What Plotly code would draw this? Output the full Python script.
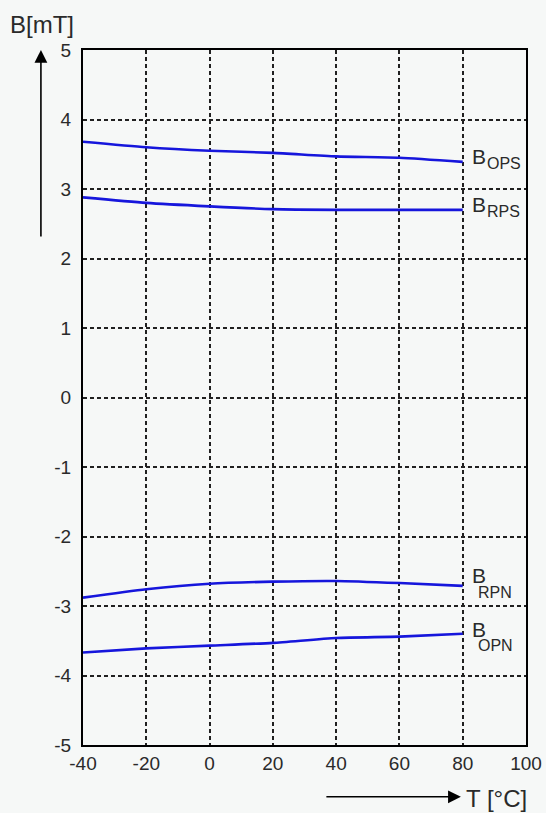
import plotly.graph_objects as go

# ---- data ----
temps = [-40, -20, 0, 20, 40, 60, 80]
b_ops = [3.68, 3.60, 3.55, 3.52, 3.47, 3.45, 3.39]
b_rps = [2.88, 2.80, 2.75, 2.71, 2.70, 2.70, 2.70]
b_rpn = [-2.88, -2.76, -2.68, -2.65, -2.64, -2.67, -2.71]
b_opn = [-3.67, -3.61, -3.57, -3.53, -3.46, -3.44, -3.40]
series_subs = ["OPS", "RPS", "RPN", "OPN"]
x_ticks = [-40, -20, 0, 20, 40, 60, 80, 100]
y_ticks = [-5, -4, -3, -2, -1, 0, 1, 2, 3, 4, 5]

# ---- styles ----
LINE = "#1616dc"
TXT = "#2a2a2a"
BG = "#f6f8f7"
FONT = "Liberation Sans, Arial, sans-serif"
# (B yshift, sub xshift, sub yshift) in pixels
label_offsets = [(5, 22, -2), (5, 22, -2), (10, 13, -7), (4, 13, -12)]

fig = go.Figure()
all_series = [b_ops, b_rps, b_rpn, b_opn]
for vals in all_series:
    fig.add_trace(go.Scatter(x=temps, y=vals, mode="lines",
                             line=dict(color=LINE, width=2.6, shape="spline", smoothing=0.6),
                             showlegend=False, hoverinfo="skip"))

for vals, sub, (bys, sxs, sys) in zip(all_series, series_subs, label_offsets):
    fig.add_annotation(x=temps[-1], y=vals[-1], text="B", showarrow=False,
                       xanchor="left", yanchor="middle", xshift=7, yshift=bys,
                       font=dict(family=FONT, size=21, color=TXT))
    fig.add_annotation(x=temps[-1], y=vals[-1], text=sub, showarrow=False,
                       xanchor="left", yanchor="middle", xshift=sxs, yshift=sys,
                       font=dict(family=FONT, size=16, color=TXT))

grid = dict(showgrid=True, gridcolor="#202020", gridwidth=1.5, griddash="4px,3px",
            showline=True, linecolor="black", linewidth=2, mirror=True,
            zeroline=False, ticks="", automargin=False,
            tickfont=dict(family=FONT, size=19, color=TXT))

fig.update_xaxes(range=[-40, 100], tickvals=x_ticks, ticktext=[str(v) for v in x_ticks],
                 ticklabelstandoff=0, **grid)
fig.update_yaxes(range=[-5, 5], tickvals=y_ticks, ticktext=[str(v) for v in y_ticks],
                 ticklabelstandoff=6, **grid)

# axis titles
fig.add_annotation(xref="paper", yref="paper", x=-0.169, y=1.037, text="B[mT]",
                   showarrow=False, xanchor="left", yanchor="middle",
                   font=dict(family=FONT, size=24, color=TXT))
fig.add_annotation(xref="paper", yref="paper", x=0.86, y=-0.077, text="T [°C]",
                   showarrow=False, xanchor="left", yanchor="middle",
                   font=dict(family=FONT, size=24, color=TXT))
# arrows
fig.add_annotation(xref="paper", yref="paper", x=-0.095, y=1.0, ax=0, ay=188,
                   text="", showarrow=True, arrowhead=2, arrowsize=1.6, arrowwidth=1.6,
                   arrowcolor="black")
fig.add_annotation(xref="paper", yref="paper", x=0.853, y=-0.0745, ax=-136, ay=0,
                   text="", showarrow=True, arrowhead=2, arrowsize=1.6, arrowwidth=1.6,
                   arrowcolor="black")

fig.update_layout(width=546, height=813, margin=dict(l=83, r=20, t=50, b=68),
                  paper_bgcolor=BG, plot_bgcolor=BG)
fig.write_html("out.html")
